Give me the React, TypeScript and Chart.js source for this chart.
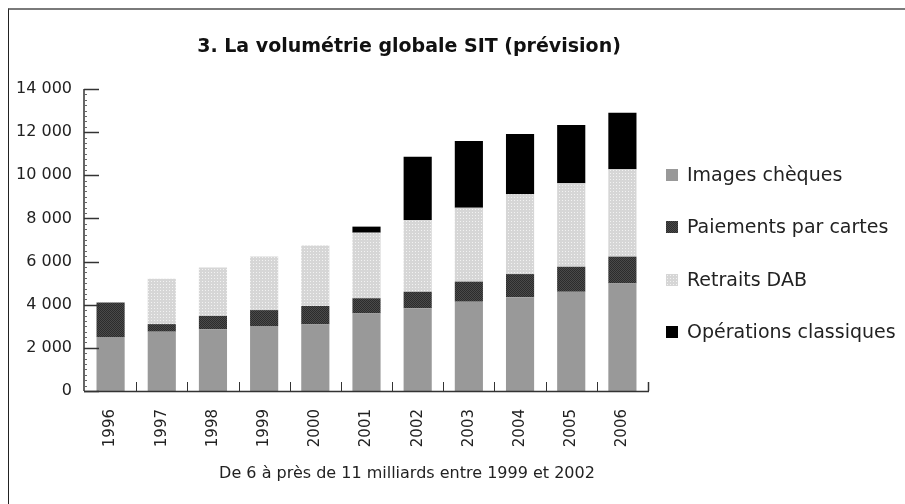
import React, { useEffect, useRef } from "react";
import { Chart, registerables } from "chart.js";

Chart.register(...registerables);

const years = ["1996", "1997", "1998", "1999", "2000", "2001", "2002", "2003", "2004", "2005", "2006"];
const imagesCheques = [2500, 2750, 2860, 3010, 3090, 3600, 3830, 4140, 4340, 4600, 4990];
const paiementsCartes = [1600, 350, 620, 740, 850, 700, 770, 930, 1080, 1160, 1240];
const retraitsDAB = [0, 2100, 2240, 2480, 2800, 3040, 3330, 3430, 3700, 3870, 4050];
const operationsClassiques = [0, 0, 0, 0, 0, 280, 2930, 3090, 2790, 2700, 2620];
const yTicks = [0, 2000, 4000, 6000, 8000, 10000, 12000, 14000];

const seriesNames = ["Images chèques", "Paiements par cartes", "Retraits DAB", "Opérations classiques"];
const titleText = "3. La volumétrie globale SIT (prévision)";
const subtitleText = "De 6 à près de 11 milliards entre 1999 et 2002";

const FONT = "'DejaVu Sans', sans-serif";

function makePattern(base: string, dot: string, size: number, dots: [number, number][]) {
  const c = document.createElement("canvas");
  c.width = size;
  c.height = size;
  const g = c.getContext("2d")!;
  g.fillStyle = base;
  g.fillRect(0, 0, size, size);
  g.fillStyle = dot;
  dots.forEach(([x, y]) => g.fillRect(x, y, 1, 1));
  const p = g.createPattern(c, "repeat");
  return p as CanvasPattern;
}

function fmt(v: number) {
  const s = String(Math.round(v));
  return s.replace(/\B(?=(\d{3})+(?!\d))/g, " ");
}

export default function App() {
  const ref = useRef<HTMLCanvasElement>(null);

  useEffect(() => {
    if (!ref.current) return;
    const dabPattern = makePattern("#d6d6d6", "#f2f2f2", 3, [[1, 1]]);
    const cardPattern = makePattern("#2c2c2c", "#4a4a4a", 2, [[0, 0], [1, 1]]);
    const fills: (string | CanvasPattern)[] = ["#999999", cardPattern, dabPattern, "#000000"];

    const decor = {
      id: "decor",
      afterDraw(chart: any) {
        const ctx = chart.ctx as CanvasRenderingContext2D;
        const ca = chart.chartArea;
        const y = chart.scales.y;
        const x = chart.scales.x;
        ctx.save();
        // Y axis line
        ctx.strokeStyle = "#333";
        ctx.lineWidth = 1.5;
        ctx.beginPath();
        ctx.moveTo(ca.left - 1, ca.top);
        ctx.lineTo(ca.left - 1, ca.bottom);
        ctx.stroke();
        // minor ticks
        ctx.lineWidth = 1;
        ctx.strokeStyle = "#666";
        for (let v = 0; v <= 14000; v += 250) {
          const py = Math.round(y.getPixelForValue(v)) + 0.5;
          ctx.beginPath();
          ctx.moveTo(ca.left - 1, py);
          ctx.lineTo(ca.left + 2, py);
          ctx.stroke();
        }
        // major ticks (inside)
        ctx.strokeStyle = "#333";
        ctx.lineWidth = 1.5;
        yTicks.forEach((v) => {
          const py = Math.round(y.getPixelForValue(v)) + 0.5;
          ctx.beginPath();
          ctx.moveTo(ca.left - 1, py);
          ctx.lineTo(ca.left + 14, py);
          ctx.stroke();
        });
        // X axis line
        ctx.beginPath();
        ctx.moveTo(ca.left - 1, ca.bottom + 0.5);
        ctx.lineTo(ca.right + 1, ca.bottom + 0.5);
        ctx.stroke();
        // x ticks at category boundaries
        const n = years.length;
        const step = x.getPixelForValue(1) - x.getPixelForValue(0);
        for (let i = 1; i <= n; i++) {
          const px = Math.round(x.getPixelForValue(i - 1) + step / 2) + 0.5;
          ctx.lineWidth = i === n ? 1.5 : 1;
          ctx.beginPath();
          ctx.moveTo(px, ca.bottom);
          ctx.lineTo(px, ca.bottom - 9);
          ctx.stroke();
        }
        // Title
        ctx.fillStyle = "#111";
        ctx.textAlign = "center";
        ctx.textBaseline = "middle";
        ctx.font = `bold 19px ${FONT}`;
        ctx.fillText(titleText, 400, 37);
        // Subtitle
        ctx.font = `16px ${FONT}`;
        ctx.fillStyle = "#222";
        ctx.fillText(subtitleText, 398, 464);
        // Legend
        const legendY = [165, 217, 270, 322];
        ctx.textAlign = "left";
        ctx.font = `19px ${FONT}`;
        seriesNames.forEach((name, i) => {
          ctx.fillStyle = fills[i] as any;
          ctx.fillRect(657, legendY[i] - 6, 12, 12);
          ctx.fillStyle = "#222";
          ctx.fillText(name, 678, legendY[i] + 1);
        });
        ctx.restore();
      },
    };

    const chart = new Chart(ref.current, {
      type: "bar",
      data: {
        labels: years,
        datasets: [
          { label: seriesNames[0], data: imagesCheques, backgroundColor: fills[0] as any, borderWidth: 0 },
          { label: seriesNames[1], data: paiementsCartes, backgroundColor: fills[1] as any, borderWidth: 0 },
          { label: seriesNames[2], data: retraitsDAB, backgroundColor: fills[2] as any, borderWidth: 0 },
          { label: seriesNames[3], data: operationsClassiques, backgroundColor: fills[3] as any, borderWidth: 0 },
        ],
      },
      options: {
        responsive: false,
        animation: false,
        devicePixelRatio: 1,
        layout: { padding: { left: 0, top: 79, right: 257, bottom: 53 } },
        datasets: { bar: { categoryPercentage: 1, barPercentage: 0.55 } },
        plugins: {
          legend: { display: false },
          title: { display: false },
          tooltip: { enabled: false },
        },
        scales: {
          x: {
            stacked: true,
            grid: { display: false, drawTicks: false },
            border: { display: false },
            ticks: {
              minRotation: 90,
              maxRotation: 90,
              padding: 18,
              color: "#222",
              font: { family: FONT, size: 15 },
            },
            afterFit(scale: any) {
              scale.height = 60;
            },
          },
          y: {
            stacked: true,
            min: 0,
            max: 14000,
            grid: { display: false, drawTicks: false },
            border: { display: false },
            ticks: {
              stepSize: 2000,
              padding: 13,
              color: "#222",
              font: { family: FONT, size: 16 },
              callback: (v: any) => fmt(Number(v)),
            },
            afterFit(scale: any) {
              scale.width = 76;
            },
          },
        },
      },
      plugins: [decor],
    });
    return () => chart.destroy();
  }, []);

  return (
    <div
      style={{
        position: "fixed",
        left: 8,
        top: 8,
        width: 896,
        height: 494,
        overflow: "hidden",
        borderTop: "2px solid #7a7a7a",
        borderLeft: "1px solid #222",
        background: "#fff",
      }}
    >
      <canvas ref={ref} width={896} height={494} style={{ display: "block", width: 896, height: 494 }} />
    </div>
  );
}
